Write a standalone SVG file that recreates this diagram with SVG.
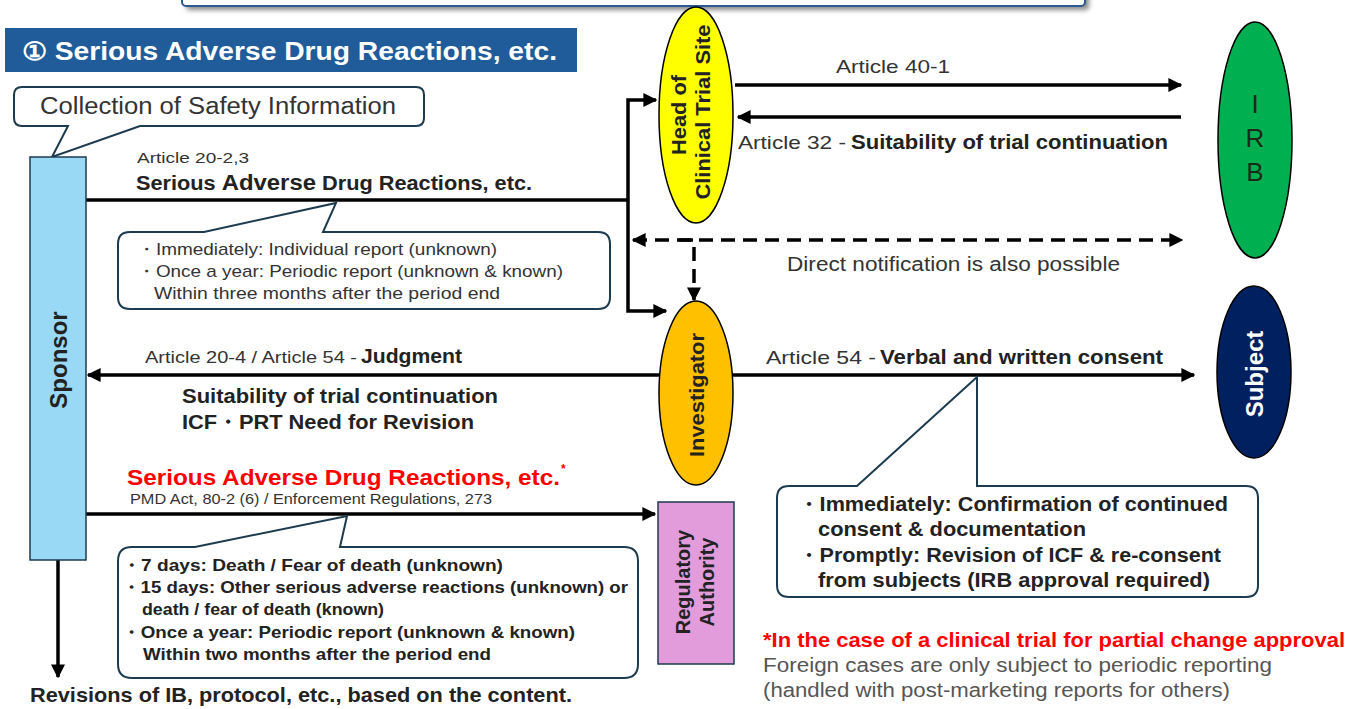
<svg xmlns="http://www.w3.org/2000/svg" width="1360" height="709" viewBox="0 0 1360 709">
<style>
text{font-family:"Liberation Sans",Arial,sans-serif;fill:#222}
.reg{font-weight:normal;fill:#333}
.b{font-weight:bold}
.call{fill:#fff;stroke:#1c3b4f;stroke-width:2}
.ln{stroke:#000;stroke-width:3.5;fill:none}
.dash{stroke:#000;stroke-width:3.5;fill:none;stroke-dasharray:14 8}
.node{stroke:#000;stroke-width:1.5}
</style>
<defs>
<marker id="ah" viewBox="0 0 10 10" refX="9" refY="5" markerWidth="4" markerHeight="4" orient="auto-start-reverse" markerUnits="strokeWidth">
<path d="M0,0 L10,5 L0,10 z" fill="#000"/>
</marker>
<filter id="sh" x="-5%" y="-50%" width="110%" height="200%"><feGaussianBlur stdDeviation="2.5"/></filter>
</defs>
<rect width="1360" height="709" fill="#fff"/>
<g id="topbox">
<rect x="186" y="-30" width="903" height="40" rx="4" fill="#888" filter="url(#sh)"/>
<rect x="182" y="-34" width="903" height="40" rx="4" fill="#fff" stroke="#2E5A94" stroke-width="2"/>
</g>
<g id="title">
<rect x="5" y="28" width="572" height="44" fill="#1F5C99"/>
<text x="22" y="60" font-size="25" class="b" style="fill:#fff" textLength="535" lengthAdjust="spacingAndGlyphs">① Serious Adverse Drug Reactions, etc.</text>
</g>
<g id="connectors">
<path class="ln" d="M86,200 H628"/>
<path class="ln" d="M628,200 V100 H656" marker-end="url(#ah)"/>
<path class="ln" d="M628,200 V311 H666" marker-end="url(#ah)"/>
<path class="ln" d="M735,85 H1181" marker-end="url(#ah)"/>
<path class="ln" d="M1181,117 H738" marker-end="url(#ah)"/>
<path class="dash" d="M633,240 H1182" marker-start="url(#ah)" marker-end="url(#ah)"/>
<path class="dash" d="M679,240 H694 V300" marker-end="url(#ah)"/>
<path class="ln" d="M659,375 H88" marker-end="url(#ah)"/>
<path class="ln" d="M733,375 H1194" marker-end="url(#ah)"/>
<path class="ln" d="M86,514 H655" marker-end="url(#ah)"/>
<path class="ln" d="M58,560 V677" marker-end="url(#ah)"/>
</g>
<g id="callout-collection">
<path class="call" d="M26,87 H416 Q424,87 424,95 V118 Q424,126 416,126 H140 L52,157 L68,126 H22 Q14,126 14,118 V95 Q14,87 22,87 Z"/>
<text x="40" y="114" font-size="23" class="reg" textLength="356" lengthAdjust="spacingAndGlyphs">Collection of Safety Information</text>
</g>
<g id="sponsor">
<rect x="30" y="157" width="56" height="403" fill="#99D9F5" stroke="#1c3b4f" stroke-width="1.5"/>
<text transform="translate(67,360) rotate(-90)" text-anchor="middle" font-size="24" class="b">Sponsor</text>
</g>
<g id="label-serious">
<text x="137" y="163" font-size="15" class="reg" textLength="112" lengthAdjust="spacingAndGlyphs">Article 20-2,3</text>
<text x="136" y="190" font-size="20" class="b" textLength="396" lengthAdjust="spacingAndGlyphs">Serious <tspan font-size="22">Adverse</tspan> Drug Reactions, etc.</text>
</g>
<g id="callout-immediate">
<path class="call" d="M130,232 H204 L336,203 L323,232 H598 Q610,232 610,244 V297 Q610,309 598,309 H130 Q118,309 118,297 V244 Q118,232 130,232 Z"/>
<text x="137" y="255" font-size="17" class="reg" textLength="360" lengthAdjust="spacingAndGlyphs">・Immediately: Individual report (unknown)</text>
<text x="137" y="277" font-size="17" class="reg" textLength="426" lengthAdjust="spacingAndGlyphs">・Once a year: Periodic report (unknown &amp; known)</text>
<text x="154" y="299" font-size="17" class="reg" textLength="346" lengthAdjust="spacingAndGlyphs">Within three months after the period end</text>
</g>
<g id="head">
<ellipse cx="696" cy="115" rx="37" ry="108" fill="#FFFF00" class="node"/>
<text transform="translate(686,115) rotate(-90)" text-anchor="middle" font-size="21" class="b" textLength="80" lengthAdjust="spacingAndGlyphs">Head of</text>
<text transform="translate(710,112) rotate(-90)" text-anchor="middle" font-size="21" class="b" textLength="175" lengthAdjust="spacingAndGlyphs">Clinical Trial Site</text>
</g>
<g id="irb-labels">
<text x="836" y="73" font-size="19" class="reg" textLength="114" lengthAdjust="spacingAndGlyphs">Article 40-1</text>
<text x="738" y="149" font-size="19" class="reg" textLength="108" lengthAdjust="spacingAndGlyphs">Article 32 -</text>
<text x="851" y="149" font-size="20" class="b" textLength="317" lengthAdjust="spacingAndGlyphs">Suitability of trial continuation</text>
<text x="787" y="271" font-size="20" class="reg" textLength="333" lengthAdjust="spacingAndGlyphs">Direct notification is also possible</text>
</g>
<g id="irb">
<ellipse cx="1255" cy="140" rx="37" ry="118" fill="#00B050" class="node"/>
<text x="1255" y="113" text-anchor="middle" font-size="26" class="reg" style="fill:#1a2a1a">I</text>
<text x="1255" y="147" text-anchor="middle" font-size="26" class="reg" style="fill:#1a2a1a">R</text>
<text x="1255" y="181" text-anchor="middle" font-size="26" class="reg" style="fill:#1a2a1a">B</text>
</g>
<g id="investigator">
<ellipse cx="696" cy="393" rx="37" ry="92" fill="#FFC000" class="node"/>
<text transform="translate(704,395) rotate(-90)" text-anchor="middle" font-size="21" class="b" textLength="124" lengthAdjust="spacingAndGlyphs">Investigator</text>
</g>
<g id="label-judgment">
<text x="145" y="363" font-size="17" class="reg" textLength="212" lengthAdjust="spacingAndGlyphs">Article 20-4 / Article 54 -</text>
<text x="361" y="363" font-size="20" class="b" textLength="101" lengthAdjust="spacingAndGlyphs">Judgment</text>
<text x="182" y="403" font-size="21" class="b" textLength="316" lengthAdjust="spacingAndGlyphs">Suitability of trial continuation</text>
<text x="182" y="429" font-size="21" class="b" textLength="292" lengthAdjust="spacingAndGlyphs">ICF・PRT Need for Revision</text>
</g>
<g id="label-consent">
<text x="766" y="364" font-size="19" class="reg" textLength="110" lengthAdjust="spacingAndGlyphs">Article 54 -</text>
<text x="880" y="364" font-size="20" class="b" textLength="283" lengthAdjust="spacingAndGlyphs">Verbal and written consent</text>
</g>
<g id="subject">
<ellipse cx="1254" cy="372" rx="37" ry="86" fill="#002060" class="node"/>
<text transform="translate(1263,374) rotate(-90)" text-anchor="middle" font-size="24" class="b" style="fill:#fff">Subject</text>
</g>
<g id="callout-consent">
<path class="call" d="M789,486 H857 L977,377 V486 H1246 Q1258,486 1258,498 V585 Q1258,597 1246,597 H789 Q777,597 777,585 V498 Q777,486 789,486 Z"/>
<text x="798" y="511" font-size="20" class="b" textLength="430" lengthAdjust="spacingAndGlyphs">・Immediately: Confirmation of continued</text>
<text x="818" y="536" font-size="20" class="b" textLength="268" lengthAdjust="spacingAndGlyphs">consent &amp; documentation</text>
<text x="798" y="562" font-size="20" class="b" textLength="423" lengthAdjust="spacingAndGlyphs">・Promptly: Revision of ICF &amp; re-consent</text>
<text x="818" y="587" font-size="20" class="b" textLength="392" lengthAdjust="spacingAndGlyphs">from subjects (IRB approval required)</text>
</g>
<g id="label-regulatory">
<text x="127" y="485" font-size="22" class="b" style="fill:#FF0000" textLength="433" lengthAdjust="spacingAndGlyphs">Serious Adverse Drug Reactions, etc.</text>
<text x="561" y="473" font-size="12" class="b" style="fill:#FF0000">*</text>
<text x="130" y="504" font-size="15" class="reg" textLength="362" lengthAdjust="spacingAndGlyphs">PMD Act, 80-2 (6) / Enforcement Regulations, 273</text>
</g>
<g id="regulatory">
<rect x="658" y="502" width="76" height="162" fill="#E29BDB" stroke="#1c3b4f" stroke-width="1.5"/>
<text transform="translate(690,582) rotate(-90)" text-anchor="middle" font-size="20" class="b">Regulatory</text>
<text transform="translate(714,582) rotate(-90)" text-anchor="middle" font-size="20" class="b">Authority</text>
</g>
<g id="callout-days">
<path class="call" d="M132,547 H195 L347,516 L340,547 H624 Q638,547 638,561 V664 Q638,678 624,678 H132 Q118,678 118,664 V561 Q118,547 132,547 Z"/>
<text x="122" y="571" font-size="17" class="b" textLength="381" lengthAdjust="spacingAndGlyphs">・7 days: Death / Fear of death (unknown)</text>
<text x="122" y="593" font-size="17" class="b" textLength="506" lengthAdjust="spacingAndGlyphs">・15 days: Other serious adverse reactions (unknown) or</text>
<text x="142" y="615" font-size="17" class="b" textLength="242" lengthAdjust="spacingAndGlyphs">death / fear of death (known)</text>
<text x="122" y="638" font-size="17" class="b" textLength="453" lengthAdjust="spacingAndGlyphs">・Once a year: Periodic report (unknown &amp; known)</text>
<text x="143" y="660" font-size="17" class="b" textLength="348" lengthAdjust="spacingAndGlyphs">Within two months after the period end</text>
</g>
<g id="footnote">
<text x="763" y="647" font-size="21" class="b" style="fill:#FF0000" textLength="582" lengthAdjust="spacingAndGlyphs">*In the case of a clinical trial for partial change approval</text>
<text x="763" y="672" font-size="20" class="reg" style="fill:#555" textLength="509" lengthAdjust="spacingAndGlyphs">Foreign cases are only subject to periodic reporting</text>
<text x="763" y="697" font-size="20" class="reg" style="fill:#555" textLength="467" lengthAdjust="spacingAndGlyphs">(handled with post-marketing reports for others)</text>
</g>
<g id="revisions">
<text x="30" y="702" font-size="21" class="b" textLength="542" lengthAdjust="spacingAndGlyphs">Revisions of IB, protocol, etc., based on the content.</text>
</g>
</svg>
